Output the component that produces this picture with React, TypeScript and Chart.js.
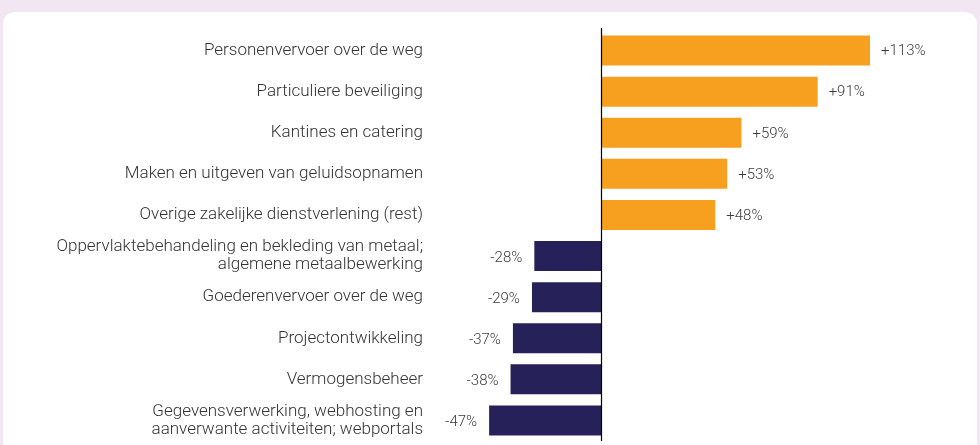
import React, { useEffect, useRef } from "react";
import { Chart, registerables } from "chart.js";

Chart.register(...registerables);

const categories: (string | string[])[] = [
  "Personenvervoer over de weg",
  "Particuliere beveiliging",
  "Kantines en catering",
  "Maken en uitgeven van geluidsopnamen",
  "Overige zakelijke dienstverlening (rest)",
  ["Oppervlaktebehandeling en bekleding van metaal;", "algemene metaalbewerking"],
  "Goederenvervoer over de weg",
  "Projectontwikkeling",
  "Vermogensbeheer",
  ["Gegevensverwerking, webhosting en", "aanverwante activiteiten; webportals"],
];
const values: number[] = [113, 91, 59, 53, 48, -28, -29, -37, -38, -47];
const valueLabels: string[] = ["+113%", "+91%", "+59%", "+53%", "+48%", "-28%", "-29%", "-37%", "-38%", "-47%"];

const ORANGE = "#F79F1F";
const NAVY = "#262158";

const valueLabelPlugin = {
  id: "valueLabels",
  afterDatasetsDraw(chart: any) {
    const ctx = chart.ctx;
    const meta = chart.getDatasetMeta(0);
    ctx.save();
    ctx.font = "300 15px Roboto";
    ctx.fillStyle = "#3a3a3a";
    ctx.textBaseline = "middle";
    meta.data.forEach((bar: any, i: number) => {
      const v = values[i];
      if (v >= 0) {
        ctx.textAlign = "left";
        ctx.fillText(valueLabels[i], bar.x + 11, bar.y + 1);
      } else {
        ctx.textAlign = "right";
        ctx.fillText(valueLabels[i], bar.x - 12, bar.y + 2);
      }
    });
    // zero line
    const x0 = Math.round(chart.scales.x.getPixelForValue(0)) + 0.5;
    ctx.strokeStyle = "#000";
    ctx.lineWidth = 1.2;
    ctx.beginPath();
    ctx.moveTo(x0, chart.chartArea.top - 2);
    ctx.lineTo(x0, chart.chartArea.bottom);
    ctx.stroke();
    ctx.restore();
  },
};

export default function App() {
  const ref = useRef<HTMLCanvasElement>(null);
  useEffect(() => {
    if (!ref.current) return;
    const chart = new Chart(ref.current, {
      type: "bar",
      data: {
        labels: categories,
        datasets: [
          {
            data: values,
            backgroundColor: values.map((v) => (v >= 0 ? ORANGE : NAVY)),
            barPercentage: 0.73,
            categoryPercentage: 1,
          },
        ],
      },
      options: {
        indexAxis: "y",
        animation: false,
        responsive: false,
        maintainAspectRatio: false,
        layout: { padding: { top: 30, bottom: 4, left: 0, right: 20 } },
        plugins: { legend: { display: false }, tooltip: { enabled: false } },
        scales: {
          x: {
            display: false,
            min: -70.57,
            max: 150.8,
          },
          y: {
            grid: { display: false, drawTicks: false },
            border: { display: false },
            afterFit: (scale: any) => {
              scale.width = 433;
              scale.paddingTop = 0;
              scale.paddingBottom = 0;
            },
            ticks: {
              color: "#333",
              padding: 10,
              font: { family: "Roboto", size: 17, weight: "300" as any, lineHeight: 1.05 },
            },
          },
        },
      },
      plugins: [valueLabelPlugin],
    });
    return () => chart.destroy();
  }, []);
  return (
    <div style={{ position: "fixed", left: 0, top: 0, width: 980, height: 445, background: "#F1E6F2", overflow: "hidden" }}>
      <div style={{ position: "absolute", left: 3, top: 12, width: 974, height: 460, background: "#fff", borderRadius: 12 }} />
      <canvas ref={ref} width={980} height={445} style={{ position: "absolute", left: 0, top: 0, width: 980, height: 445 }} />
    </div>
  );
}
